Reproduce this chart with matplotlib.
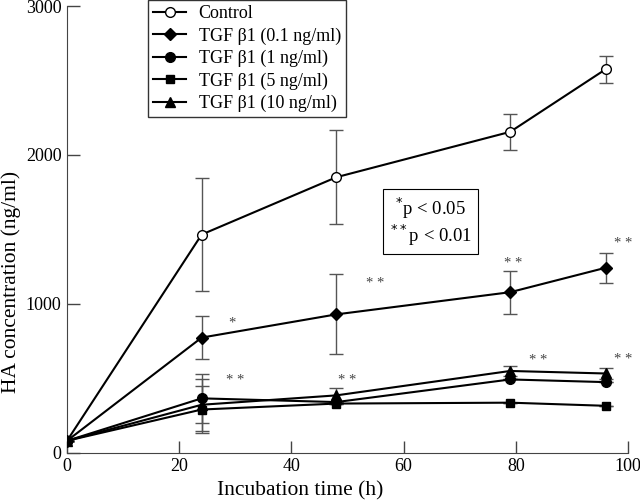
import matplotlib.pyplot as plt
from matplotlib.legend_handler import HandlerLine2D

plt.rcParams['font.family'] = ['Liberation Serif', 'DejaVu Serif']

hours = [0, 24, 48, 79, 96]

control = [80, 1465, 1850, 2155, 2575]
control_err = [0, 380, 315, 120, 90]

tgf_01 = [80, 773, 929, 1078, 1242]
tgf_01_err = [0, 146, 268, 145, 100]

tgf_1 = [80, 365, 340, 492, 474]
tgf_1_err = [0, 165, 0, 0, 0]

tgf_5 = [80, 290, 330, 336, 315]
tgf_5_err = [0, 155, 0, 0, 0]

tgf_10 = [80, 322, 385, 549, 532]
tgf_10_err = [0, 175, 50, 34, 40]

labels = ['Control', 'TGF β1 (0.1 ng/ml)', 'TGF β1 (1 ng/ml)',
          'TGF β1 (5 ng/ml)', 'TGF β1 (10 ng/ml)']

# significance marks (x, y, text)
stars = [(29.4, 871, '*'), (55, 1137, '* *'), (79.6, 1273, '* *'), (99.2, 1407, '* *'),
         (30, 482, '* *'), (49.9, 482, '* *'), (84, 621, '* *'), (99.2, 625, '* *')]


class LeftMarkerHandler(HandlerLine2D):
    # marker sits at the left end of the legend line
    def get_xdata(self, legend, xdescent, ydescent, width, height, fontsize):
        return [-xdescent, -xdescent + width], [-xdescent]


fig = plt.figure(figsize=(6.4, 5.01), dpi=100)
ax = fig.add_axes([0.1047, 0.0964, 0.8766, 0.8916])

series = [
    (control, control_err, 'o', 'white'),
    (tgf_01, tgf_01_err, 'D', 'black'),
    (tgf_1, tgf_1_err, 'o', 'black'),
    (tgf_5, tgf_5_err, 's', 'black'),
    (tgf_10, tgf_10_err, '^', 'black'),
]
msizes = {'o': 7, 'D': 6, 's': 6, '^': 7}

handles = []
for (vals, err, m, fc), lab in zip(series, labels):
    ax.errorbar(hours, vals, yerr=err, fmt='none', ecolor='#555555',
                elinewidth=1, capsize=5, capthick=1, zorder=2)
    h, = ax.plot(hours, vals, color='black', lw=1.5, marker=m,
                 markersize=msizes[m], markerfacecolor=fc,
                 markeredgecolor='black', markeredgewidth=1, zorder=3,
                 label=lab)
    handles.append(h)

for x, y, t in stars:
    ax.text(x, y, t, fontsize=10.5, color='#444444', ha='center', va='center')

ax.text(64.8, 1552, '$^{*}$p < 0.05\n$^{**}$p < 0.01', fontsize=13.5,
        ha='center', va='center', linespacing=1.05,
        bbox=dict(boxstyle='square,pad=0.35', fc='white', ec='black', lw=0.8))

ax.set_xlim(0, 100)
ax.set_ylim(0, 3000)
ax.set_xticks([0, 20, 40, 60, 80, 100])
ax.set_yticks([0, 1000, 2000, 3000])
ax.spines['top'].set_visible(False)
ax.spines['right'].set_visible(False)
for s in ('left', 'bottom'):
    ax.spines[s].set_color('#444444')
ax.tick_params(direction='in', length=9, width=1, color='#444444',
               labelsize=13, pad=4)

ax.set_xlabel('Incubation time (h)', fontsize=15.5)
ax.set_ylabel('HA concentration (ng/ml)', fontsize=15.5)
ax.xaxis.set_label_coords(0.415, -0.064)
ax.yaxis.set_label_coords(-0.082, 0.382)

leg = ax.legend(handles=handles, loc='upper left',
                bbox_to_anchor=(0.1444, 1.0134), borderaxespad=0,
                fontsize=13, frameon=True, fancybox=False, edgecolor='black',
                handlelength=1.8, handletextpad=0.7, borderpad=0.3,
                labelspacing=0.28, numpoints=1,
                handler_map={h: LeftMarkerHandler() for h in handles})
leg.get_frame().set_linewidth(1)

fig.savefig('out.png', dpi=100)
